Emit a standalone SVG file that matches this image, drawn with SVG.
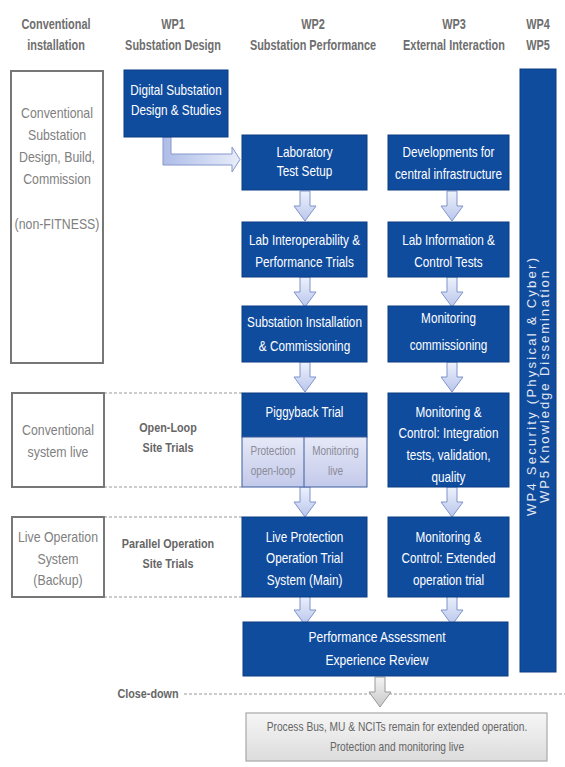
<svg xmlns="http://www.w3.org/2000/svg" width="565" height="767" viewBox="0 0 565 767">
  <style>
    text { font-family: "Liberation Sans", Arial, sans-serif; text-anchor: middle; }
    .hdr { font-size: 14px; fill: #6e6e6e; font-weight: bold; }
    .wt { font-size: 14px; fill: #ffffff; }
    .gt { font-size: 14px; fill: #808080; }
    .phase { font-size: 13.5px; fill: #666; font-weight: bold; }
    .pt { font-size: 13.5px; fill: #8a8a98; }
    .small { font-size: 12px; fill: #666; }
    .vt { font-size: 13px; fill: #e2e7f2; }
    .box { fill: #0f4c9e; stroke: #0a3c82; stroke-width: 1; }
    .gbox { fill: #ffffff; stroke: #777; stroke-width: 2; }
    .dash { stroke: #999; stroke-width: 1.2; stroke-dasharray: 3 2; fill: none; }
    .arr { fill: url(#arrFill); stroke: #7f93cc; stroke-width: 1; }
  </style>
  <defs>
    <linearGradient id="arrFill" x1="0" y1="0" x2="0" y2="1">
      <stop offset="0" stop-color="#eef2fc"/>
      <stop offset="1" stop-color="#b9c6ec"/>
    </linearGradient>
    <linearGradient id="elbowFill" x1="0" y1="0" x2="1" y2="0">
      <stop offset="0" stop-color="#aebde8"/>
      <stop offset="1" stop-color="#e8edfa"/>
    </linearGradient>
    <linearGradient id="panelFill" x1="0" y1="0" x2="0" y2="1">
      <stop offset="0" stop-color="#e6e9f7"/>
      <stop offset="1" stop-color="#c3c9ea"/>
    </linearGradient>
    <linearGradient id="greyFill" x1="0" y1="0" x2="0" y2="1">
      <stop offset="0" stop-color="#f6f6f6"/>
      <stop offset="1" stop-color="#dcdcdc"/>
    </linearGradient>
    <linearGradient id="greyArr" x1="0" y1="0" x2="0" y2="1">
      <stop offset="0" stop-color="#f4f4f4"/>
      <stop offset="1" stop-color="#c8c8c8"/>
    </linearGradient>
    <!-- down arrow shape, origin at top centre, 30 high -->
    <path id="down" d="M-5,0 H5 V15 H11 L0,30 L-11,15 H-5 Z"/>
  </defs>

  <!-- column headings (condensed by horizontal scaling) -->
  <g id="headings">
    <g transform="translate(56 0) scale(0.78 1)">
      <text class="hdr" x="0" y="29">Conventional</text>
      <text class="hdr" x="0" y="50">installation</text>
    </g>
    <g transform="translate(173 0) scale(0.78 1)">
      <text class="hdr" x="0" y="29">WP1</text>
      <text class="hdr" x="0" y="50">Substation Design</text>
    </g>
    <g transform="translate(313 0) scale(0.78 1)">
      <text class="hdr" x="0" y="29">WP2</text>
      <text class="hdr" x="0" y="50">Substation Performance</text>
    </g>
    <g transform="translate(454 0) scale(0.78 1)">
      <text class="hdr" x="0" y="29">WP3</text>
      <text class="hdr" x="0" y="50">External Interaction</text>
    </g>
    <g transform="translate(538 0) scale(0.78 1)">
      <text class="hdr" x="0" y="29">WP4</text>
      <text class="hdr" x="0" y="50">WP5</text>
    </g>
  </g>

  <!-- connectors -->
  <g id="connectors">
    <!-- phase dividers -->
    <line class="dash" x1="104" y1="393" x2="242" y2="393"/>
    <line class="dash" x1="104" y1="487" x2="242" y2="487"/>
    <line class="dash" x1="104" y1="517" x2="242" y2="517"/>
    <line class="dash" x1="104" y1="597" x2="242" y2="597"/>
    <line class="dash" x1="184" y1="694" x2="565" y2="694"/>
    <!-- design hand-over elbow -->
    <path d="M163,137 H171 V154 H232 V147 L240,159.5 L232,172 V165 H163 Z" fill="url(#elbowFill)" stroke="#8697cc" stroke-width="1"/>
    <!-- WP2 chain -->
    <use href="#down" class="arr" x="305" y="191"/>
    <use href="#down" class="arr" x="305" y="277"/>
    <use href="#down" class="arr" x="305" y="362"/>
    <use href="#down" class="arr" x="305" y="487"/>
    <use href="#down" class="arr" x="305" y="595"/>
    <!-- WP3 chain -->
    <use href="#down" class="arr" x="452" y="191"/>
    <use href="#down" class="arr" x="452" y="277"/>
    <use href="#down" class="arr" x="452" y="362"/>
    <use href="#down" class="arr" x="452" y="487"/>
    <use href="#down" class="arr" x="452" y="595"/>
    <!-- close-down -->
    <use href="#down" x="380" y="677" fill="url(#greyArr)" stroke="#999" stroke-width="1"/>
  </g>

  <!-- conventional installation column -->
  <g id="conv-design">
    <rect class="gbox" x="11" y="71" width="92" height="292"/>
    <g transform="translate(57 0) scale(0.88 1)">
      <text class="gt" x="0" y="118">Conventional</text>
      <text class="gt" x="0" y="140">Substation</text>
      <text class="gt" x="0" y="162">Design, Build,</text>
      <text class="gt" x="0" y="184">Commission</text>
      <text class="gt" x="0" y="229">(non-FITNESS)</text>
    </g>
  </g>
  <g id="conv-live">
    <rect class="gbox" x="12" y="393" width="92" height="94"/>
    <g transform="translate(58 0) scale(0.88 1)">
      <text class="gt" x="0" y="435">Conventional</text>
      <text class="gt" x="0" y="457">system live</text>
    </g>
  </g>
  <g id="live-backup">
    <rect class="gbox" x="12" y="517" width="92" height="80"/>
    <g transform="translate(58 0) scale(0.88 1)">
      <text class="gt" x="0" y="542">Live Operation</text>
      <text class="gt" x="0" y="564">System</text>
      <text class="gt" x="0" y="585">(Backup)</text>
    </g>
  </g>

  <!-- phase labels -->
  <g id="phase-openloop" transform="translate(168 0) scale(0.8 1)">
    <text class="phase" x="0" y="432">Open-Loop</text>
    <text class="phase" x="0" y="452">Site Trials</text>
  </g>
  <g id="phase-parallel" transform="translate(168 0) scale(0.8 1)">
    <text class="phase" x="0" y="548">Parallel Operation</text>
    <text class="phase" x="0" y="568">Site Trials</text>
  </g>
  <g id="phase-closedown" transform="translate(148 0) scale(0.8 1)">
    <text class="phase" x="0" y="698">Close-down</text>
  </g>

  <!-- WP1 -->
  <g id="wp1-design">
    <rect class="box" x="124" y="70" width="104" height="67"/>
    <g transform="translate(176 0) scale(0.84 1)">
      <text class="wt" x="0" y="95">Digital Substation</text>
      <text class="wt" x="0" y="115">Design &amp; Studies</text>
    </g>
  </g>

  <!-- WP2 -->
  <g id="wp2-lab-setup">
    <rect class="box" x="242" y="135" width="125" height="55"/>
    <g transform="translate(304.5 0) scale(0.84 1)">
      <text class="wt" x="0" y="157">Laboratory</text>
      <text class="wt" x="0" y="176">Test Setup</text>
    </g>
  </g>
  <g id="wp2-lab-trials">
    <rect class="box" x="242" y="222" width="125" height="55"/>
    <g transform="translate(304.5 0) scale(0.84 1)">
      <text class="wt" x="0" y="245">Lab Interoperability &amp;</text>
      <text class="wt" x="0" y="267">Performance Trials</text>
    </g>
  </g>
  <g id="wp2-install">
    <rect class="box" x="242" y="306" width="125" height="56"/>
    <g transform="translate(304.5 0) scale(0.84 1)">
      <text class="wt" x="0" y="327">Substation Installation</text>
      <text class="wt" x="0" y="351">&amp; Commissioning</text>
    </g>
  </g>
  <g id="wp2-piggyback">
    <rect class="box" x="242" y="393" width="125" height="44"/>
    <rect x="242" y="437" width="125" height="50" fill="url(#panelFill)" stroke="#3d5c9e" stroke-width="1"/>
    <line x1="304" y1="437" x2="304" y2="487" stroke="#3d5c9e" stroke-width="1"/>
    <g transform="translate(304.5 0) scale(0.82 1)">
      <text class="wt" x="0" y="417">Piggyback Trial</text>
    </g>
    <g transform="translate(273 0) scale(0.74 1)">
      <text class="pt" x="0" y="455">Protection</text>
      <text class="pt" x="0" y="475">open-loop</text>
    </g>
    <g transform="translate(335.5 0) scale(0.74 1)">
      <text class="pt" x="0" y="455">Monitoring</text>
      <text class="pt" x="0" y="475">live</text>
    </g>
  </g>
  <g id="wp2-live-protection">
    <rect class="box" x="242" y="517" width="125" height="80"/>
    <g transform="translate(304.5 0) scale(0.84 1)">
      <text class="wt" x="0" y="542">Live Protection</text>
      <text class="wt" x="0" y="563">Operation Trial</text>
      <text class="wt" x="0" y="585">System (Main)</text>
    </g>
  </g>

  <!-- WP3 -->
  <g id="wp3-infra">
    <rect class="box" x="388" y="135" width="121" height="55"/>
    <g transform="translate(448.5 0) scale(0.84 1)">
      <text class="wt" x="0" y="157">Developments for</text>
      <text class="wt" x="0" y="179">central infrastructure</text>
    </g>
  </g>
  <g id="wp3-lab-tests">
    <rect class="box" x="388" y="222" width="121" height="55"/>
    <g transform="translate(448.5 0) scale(0.84 1)">
      <text class="wt" x="0" y="245">Lab Information &amp;</text>
      <text class="wt" x="0" y="267">Control Tests</text>
    </g>
  </g>
  <g id="wp3-monitoring">
    <rect class="box" x="388" y="306" width="121" height="56"/>
    <g transform="translate(448.5 0) scale(0.84 1)">
      <text class="wt" x="0" y="323">Monitoring</text>
      <text class="wt" x="0" y="350">commissioning</text>
    </g>
  </g>
  <g id="wp3-integration">
    <rect class="box" x="388" y="393" width="121" height="94"/>
    <g transform="translate(448.5 0) scale(0.84 1)">
      <text class="wt" x="0" y="417">Monitoring &amp;</text>
      <text class="wt" x="0" y="438">Control: Integration</text>
      <text class="wt" x="0" y="460">tests, validation,</text>
      <text class="wt" x="0" y="482">quality</text>
    </g>
  </g>
  <g id="wp3-extended">
    <rect class="box" x="388" y="517" width="121" height="80"/>
    <g transform="translate(448.5 0) scale(0.84 1)">
      <text class="wt" x="0" y="542">Monitoring &amp;</text>
      <text class="wt" x="0" y="563">Control: Extended</text>
      <text class="wt" x="0" y="585">operation trial</text>
    </g>
  </g>

  <!-- shared review -->
  <g id="performance-review">
    <rect class="box" x="243" y="622" width="265" height="54"/>
    <g transform="translate(377 0) scale(0.86 1)">
      <text class="wt" x="0" y="642">Performance Assessment</text>
      <text class="wt" x="0" y="665">Experience Review</text>
    </g>
  </g>

  <!-- WP4 / WP5 -->
  <g id="wp4-wp5">
    <rect class="box" x="520" y="69" width="36" height="603"/>
    <g transform="translate(538 387) rotate(-90)">
      <text class="vt" x="0" y="-2" textLength="258" lengthAdjust="spacing">WP4 Security (Physical &amp; Cyber)</text>
      <text class="vt" x="0" y="11" textLength="232" lengthAdjust="spacing">WP5 Knowledge Dissemination</text>
    </g>
  </g>

  <!-- legacy outcome -->
  <g id="extended-operation">
    <rect x="246" y="713" width="301" height="48" fill="url(#greyFill)" stroke="#a8a8a8" stroke-width="1.2"/>
    <g transform="translate(397 0) scale(0.85 1)">
      <text class="small" x="0" y="731">Process Bus, MU &amp; NCITs remain for extended  operation.</text>
      <text class="small" x="0" y="751">Protection and monitoring live</text>
    </g>
  </g>
</svg>
